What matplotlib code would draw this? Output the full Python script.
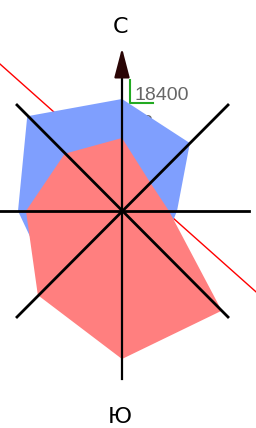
'''Wind rose: two direction polygons drawn over compass axes.'''

import numpy as np
import matplotlib.pyplot as plt

# Directions (clockwise from north) and their angles in degrees
directions = ['N', 'NE', 'E', 'SE', 'S', 'SW', 'W', 'NW']
angles_deg = [90, 45, 0, -45, -90, -135, 180, 135]

# Series values (radius units)
blue_values = [112, 96, 55, 55, 90, 100, 104, 134]
red_values = [73, 40, 47, 141, 148, 119, 96, 81]

# Labels
north_label = 'С'
south_label = 'Ю'
scale_label = '18400'
hidden_label = '2'


def to_xy(values):
    ang = np.radians(angles_deg)
    r = np.array(values, dtype=float)
    return r * np.cos(ang), r * np.sin(ang)


fig = plt.figure(figsize=(2.56, 4.28), dpi=100)
ax = fig.add_axes([0, 0, 1, 1])
ax.set_xlim(-122, 134)
ax.set_ylim(-217, 211)
ax.set_aspect('equal')
ax.axis('off')

# Red trend line behind everything
lx = np.array([-122, 134])
ax.plot(lx, 38.4 - 0.89 * lx, color='red', lw=1, zorder=1)

# Gray label mostly hidden behind the blue polygon
ax.text(20, 83, hidden_label, color='#666666', fontsize=14,
        family='Liberation Sans', va='baseline', zorder=1.5)

# Polygons
bx, by = to_xy(blue_values)
ax.fill(bx, by, color='#7f9ffe', lw=0, zorder=2)
rx, ry = to_xy(red_values)
ax.fill(rx, ry, color='#ff7f7f', lw=0, zorder=3)

# Compass axes
ax.plot([0, 0], [-168, 139], color='black', lw=1.6, zorder=4)
ax.plot([-122, 127], [0, 0], color='black', lw=2, zorder=4)
ax.plot([-105, 106], [106, -106], color='black', lw=2, zorder=4)
ax.plot([-105, 106], [-106, 106], color='black', lw=2, zorder=4)
ax.annotate('', xy=(0, 163), xytext=(0, 137),
            arrowprops=dict(arrowstyle='-|>,head_length=1.8,head_width=0.47',
                            color='#2a0505', lw=1.6, shrinkA=0, shrinkB=0),
            zorder=5)

# Scale marker
ax.plot([8, 8, 31], [131, 108, 108], color='#22aa22', lw=1.5, zorder=5)
ax.text(13, 111, scale_label, color='#666666', fontsize=14,
        family='Liberation Sans', va='baseline', zorder=5)

# Direction labels
ax.text(-2, 178, north_label, fontsize=16, ha='center', va='baseline')
ax.text(-2, -212, south_label, fontsize=16, ha='center', va='baseline')

fig.savefig('out.png', dpi=100)
